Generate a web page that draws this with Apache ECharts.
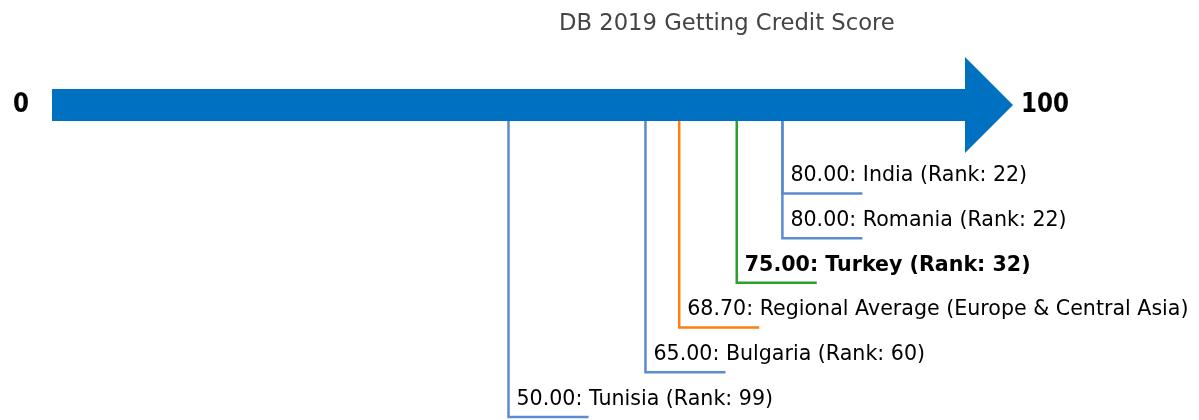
<!DOCTYPE html>
<html>
<head>
<meta charset="utf-8">
<script src="https://cdn.jsdelivr.net/npm/echarts@6/dist/echarts.min.js"></script>
<style>
  html, body { margin: 0; padding: 0; background: #fff; }
  #chart { width: 1199px; height: 420px; }
</style>
</head>
<body>
<div id="chart"></div>
<script>
// score scale shown by the arrow
const scaleEnds = [0, 100];

// entries, top to bottom
const names = ['India', 'Romania', 'Turkey', 'Regional Average (Europe & Central Asia)', 'Bulgaria', 'Tunisia'];
const scores = [80.00, 80.00, 75.00, 68.70, 65.00, 50.00];
const ranks = [22, 22, 32, null, 60, 99];
const kinds = ['peer', 'peer', 'focus', 'region', 'peer', 'peer'];

const colors = {
    arrow: '#0070c0',
    peer: '#5b8bd0',
    focus: '#2ca02c',
    region: '#ff7f0e'
};
const fontFamily = '"DejaVu Sans", sans-serif';
const shaftHalf = 16;   // half thickness of arrow shaft (px)
const headHalf = 48;    // half height of arrow head (px)
const headLen = 48;     // arrow head length (px)
const legLen = 80;      // horizontal leader length (px)

const leaderData = scores.map((s, i) => [s, i + 2, i]);

const chart = echarts.init(document.getElementById('chart'));

const option = {
    animation: false,
    title: {
        text: 'DB 2019 Getting Credit Score',
        left: 554,
        top: 8,
        textStyle: {
            fontFamily: fontFamily,
            fontSize: 22.7,
            fontWeight: 'normal',
            color: '#444444'
        }
    },
    grid: { left: 52, right: 234, top: 104, bottom: 3 },
    xAxis: { type: 'value', min: scaleEnds[0], max: scaleEnds[1], show: false },
    yAxis: { type: 'value', min: 0, max: 7, inverse: true, show: false },
    series: [{
        // big arrow
        type: 'custom',
        clip: false,
        data: [[scaleEnds[0], scaleEnds[1], 0.02]],
        renderItem: function (params, api) {
            const p0 = api.coord([api.value(0), api.value(2)]);
            const p1 = api.coord([api.value(1), api.value(2)]);
            const y = p0[1];
            return {
                type: 'group',
                children: [{
                    type: 'polygon',
                    shape: {
                        points: [
                            [p0[0], y - shaftHalf], [p1[0], y - shaftHalf],
                            [p1[0], y - headHalf], [p1[0] + headLen, y],
                            [p1[0], y + headHalf], [p1[0], y + shaftHalf],
                            [p0[0], y + shaftHalf]
                        ]
                    },
                    style: { fill: colors.arrow }
                }, {
                    type: 'text',
                    x: p0[0] - 31, y: y, scaleY: 1.15,
                    style: {
                        text: String(scaleEnds[0]),
                        font: 'bold 23px ' + fontFamily,
                        fill: '#000', align: 'center', verticalAlign: 'middle'
                    }
                }, {
                    type: 'text',
                    x: p1[0] + headLen + 8, y: y, scaleY: 1.15,
                    style: {
                        text: String(scaleEnds[1]),
                        font: 'bold 23px ' + fontFamily,
                        fill: '#000', align: 'left', verticalAlign: 'middle'
                    }
                }]
            };
        }
    }, {
        // leader lines + labels
        type: 'custom',
        clip: false,
        data: leaderData,
        renderItem: function (params, api) {
            const i = api.value(2);
            const top = api.coord([api.value(0), 0.02]);
            const p = api.coord([api.value(0), api.value(1)]);
            const c = colors[kinds[i]];
            const label = scores[i].toFixed(2) + ': ' + names[i] +
                (ranks[i] != null ? ' (Rank: ' + ranks[i] + ')' : '');
            const bold = kinds[i] === 'focus';
            return {
                type: 'group',
                children: [{
                    type: 'polyline',
                    shape: { points: [[p[0], top[1] + shaftHalf], [p[0], p[1]], [p[0] + legLen, p[1]]] },
                    style: { stroke: c, lineWidth: 2.5, fill: null, lineJoin: 'miter' }
                }, {
                    type: 'text',
                    x: p[0] + 8, y: p[1] - 18, scaleY: 1.06,
                    style: {
                        text: label,
                        font: (bold ? 'bold ' : '') + '20.6px ' + fontFamily,
                        fill: '#000', align: 'left', verticalAlign: 'middle'
                    }
                }]
            };
        }
    }]
};

chart.setOption(option);
</script>
</body>
</html>
